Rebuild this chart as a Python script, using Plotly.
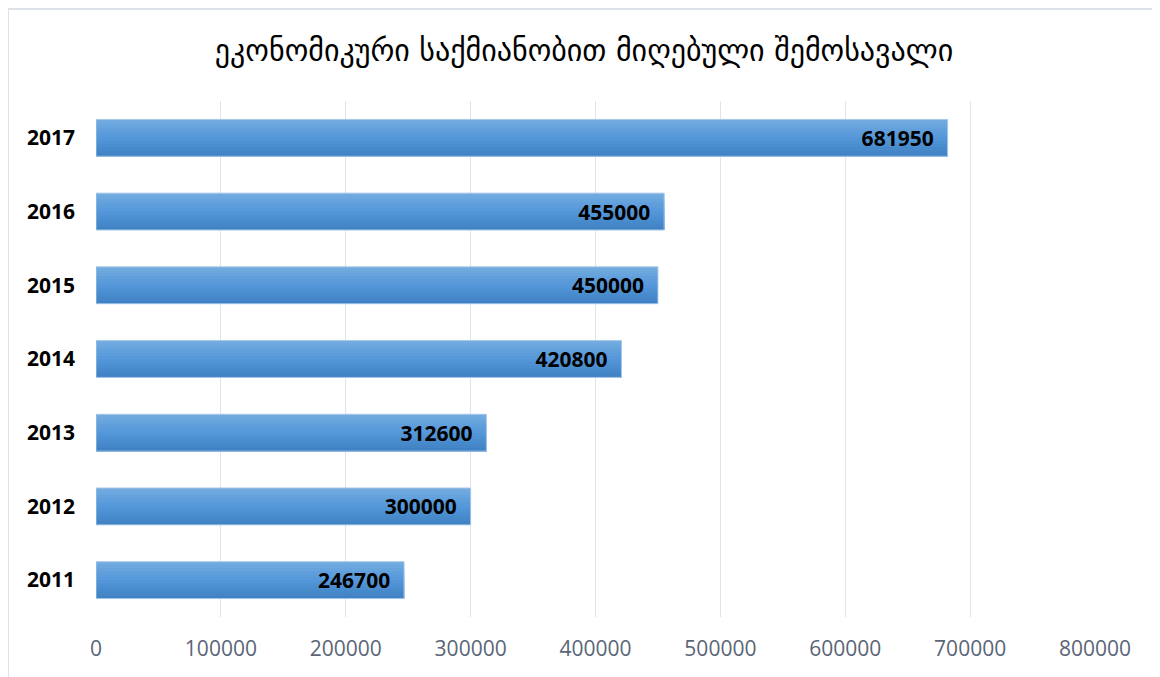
import plotly.graph_objects as go

years = ["2011", "2012", "2013", "2014", "2015", "2016", "2017"]
income = [246700, 300000, 312600, 420800, 450000, 455000, 681950]
x_ticks = [0, 100000, 200000, 300000, 400000, 500000, 600000, 700000, 800000]
title = "ეკონომიკური საქმიანობით მიღებული შემოსავალი"

# vertical gradient of the bars, top -> bottom
grad = ["#71aadf", "#6ca7de", "#67a3dd", "#619fdc", "#5c9cdb", "#5799da",
        "#5396d8", "#4f92d4", "#4b8ed0", "#478acc", "#4486c8", "#4182c4"]

# page has an 8px body margin, so the figure is drawn 8px in from the corner
W, H = 1152, 669
L, R, T, B = 88, 65, 93, 60
pw, ph = W - L - R, H - T - B

bar_w = 0.5
fig = go.Figure()

n = len(grad)
step = bar_w / n
for i, c in enumerate(grad):
    # each layer starts at the bar bottom and gets shorter from the top
    fig.add_trace(go.Bar(
        y=years, x=income, orientation="h",
        width=bar_w - i * step, offset=-bar_w / 2,
        marker=dict(color=c, line=dict(width=0)),
        hoverinfo="skip", showlegend=False,
    ))

# outline + labels
fig.add_trace(go.Bar(
    y=years, x=income, orientation="h",
    width=bar_w, offset=-bar_w / 2,
    marker=dict(color="rgba(0,0,0,0)", line=dict(color="#a8c8ea", width=1)),
    texttemplate="%{x:d}\u00a0\u00a0",
    textposition="inside", insidetextanchor="end",
    textfont=dict(family="Open Sans, sans-serif", size=21, color="black", weight="bold"),
    constraintext="none",
    showlegend=False,
))

fig.update_layout(
    barmode="overlay",
    width=W, height=H,
    margin=dict(l=L, r=R, t=T, b=B),
    paper_bgcolor="white", plot_bgcolor="white",
    title=dict(text=title, x=(584 - 8) / W, xanchor="center", y=1 - (50 - 8) / H, yanchor="middle",
               font=dict(family="DejaVu Sans", size=30, color="black")),
    xaxis=dict(range=[0, 800000], tickvals=x_ticks, ticktext=[str(v) for v in x_ticks],
               showgrid=True, gridcolor="#e0e3ea", gridwidth=1, zeroline=False,
               showline=False, ticks="", ticklabelstandoff=17,
               tickfont=dict(family="Open Sans, sans-serif", size=21, color="#5a6577")),
    yaxis=dict(showgrid=False, zeroline=False, showline=False, ticks="",
               ticklabelstandoff=20,
               tickfont=dict(family="Open Sans, sans-serif", size=21, color="black", weight="bold")),
    shapes=[dict(type="rect", xref="paper", yref="paper",
                 x0=(0 - L) / pw, x1=(1150 - L) / pw,
                 y0=-0.3, y1=(ph + T - 1) / ph,
                 line=dict(color="#dde1e8", width=2), layer="below")],
)

fig.write_html("out.html")
